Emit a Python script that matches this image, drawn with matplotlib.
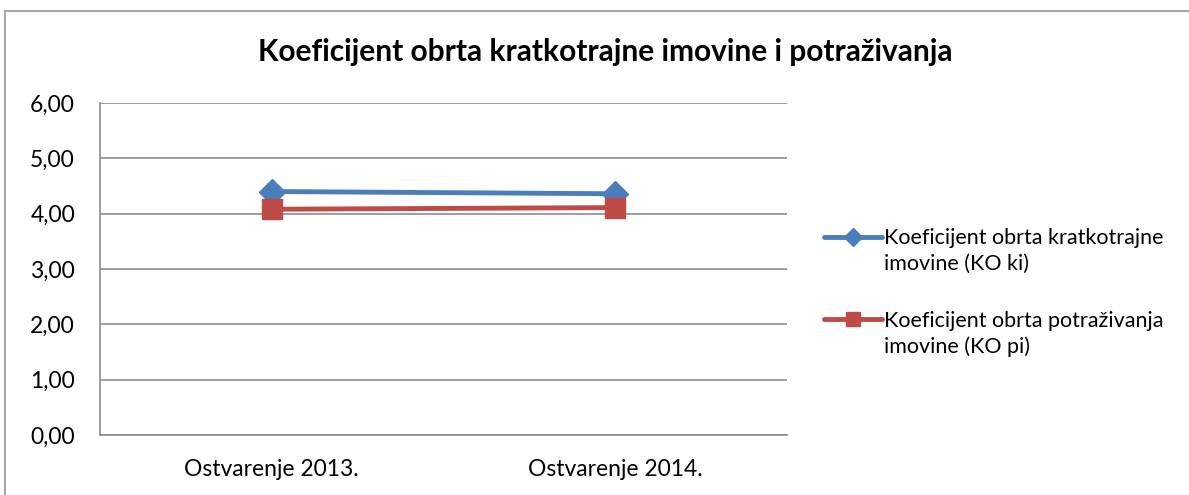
import matplotlib.pyplot as plt
from matplotlib.lines import Line2D
from matplotlib.patches import Rectangle
from matplotlib.ticker import FuncFormatter

categories = ['Ostvarenje 2013.', 'Ostvarenje 2014.']
ko_ki = [4.40, 4.36]
ko_pi = [4.08, 4.11]
labels = [['Koeficijent obrta kratkotrajne', 'imovine (KO ki)'],
          ['Koeficijent obrta potraživanja', 'imovine (KO pi)']]
title = 'Koeficijent obrta kratkotrajne imovine i potraživanja'

plt.rcParams['font.family'] = ['Lato', 'DejaVu Sans']

W, H = 1189, 495
fig = plt.figure(figsize=(W / 100, H / 100), dpi=100)

# outer chart border
fig.patches.append(Rectangle((5 / W, -0.1), 1.2, 1 - 11 / H + 0.1,
                             transform=fig.transFigure, fill=False,
                             edgecolor='#a6a6a6', linewidth=1.5))

ax = fig.add_axes([100 / W, 60 / H, 687 / W, 332 / H])
x = [0.5, 1.5]
l1, = ax.plot(x, ko_ki, color='#4a7ebb', linewidth=3.5, marker='D',
              markersize=13, solid_capstyle='round')
l2, = ax.plot(x, ko_pi, color='#be4b48', linewidth=3.5, marker='s',
              markersize=14, solid_capstyle='round')

ax.set_xlim(0, 2)
ax.set_ylim(0, 6)
ax.set_yticks(range(7))
ax.yaxis.set_major_formatter(FuncFormatter(lambda v, p: f'{v:.2f}'.replace('.', ',')))
ax.set_xticks(x)
ax.set_xticklabels(categories)
ax.grid(axis='y', color='#8c8c8c', linewidth=1.2)
ax.set_axisbelow(True)
for s in ['top', 'right']:
    ax.spines[s].set_visible(False)
for s in ['left', 'bottom']:
    ax.spines[s].set_color('#8c8c8c')
    ax.spines[s].set_linewidth(1.2)
ax.tick_params(axis='both', length=0, labelsize=16.5, colors='black')
ax.tick_params(axis='y', pad=18)
ax.tick_params(axis='x', pad=17)

fig.text(605 / W, 1 - 52 / H, title, ha='center', va='center',
         fontsize=21.5, fontweight='bold')

# legend: marker sits on the first text line of each entry
blank = Line2D([], [], alpha=0)
for handle, lab, yc in [(l1, labels[0], 251), (l2, labels[1], 334)]:
    fig.legend(handles=[handle, blank], labels=lab, loc='center left',
               bbox_to_anchor=(824 / W, 1 - yc / H), frameon=False,
               fontsize=15.5, handlelength=2.7, handletextpad=0.1,
               labelspacing=0.25, markerscale=0.7, borderpad=0,
               borderaxespad=0)

fig.savefig('out.png', dpi=100)
